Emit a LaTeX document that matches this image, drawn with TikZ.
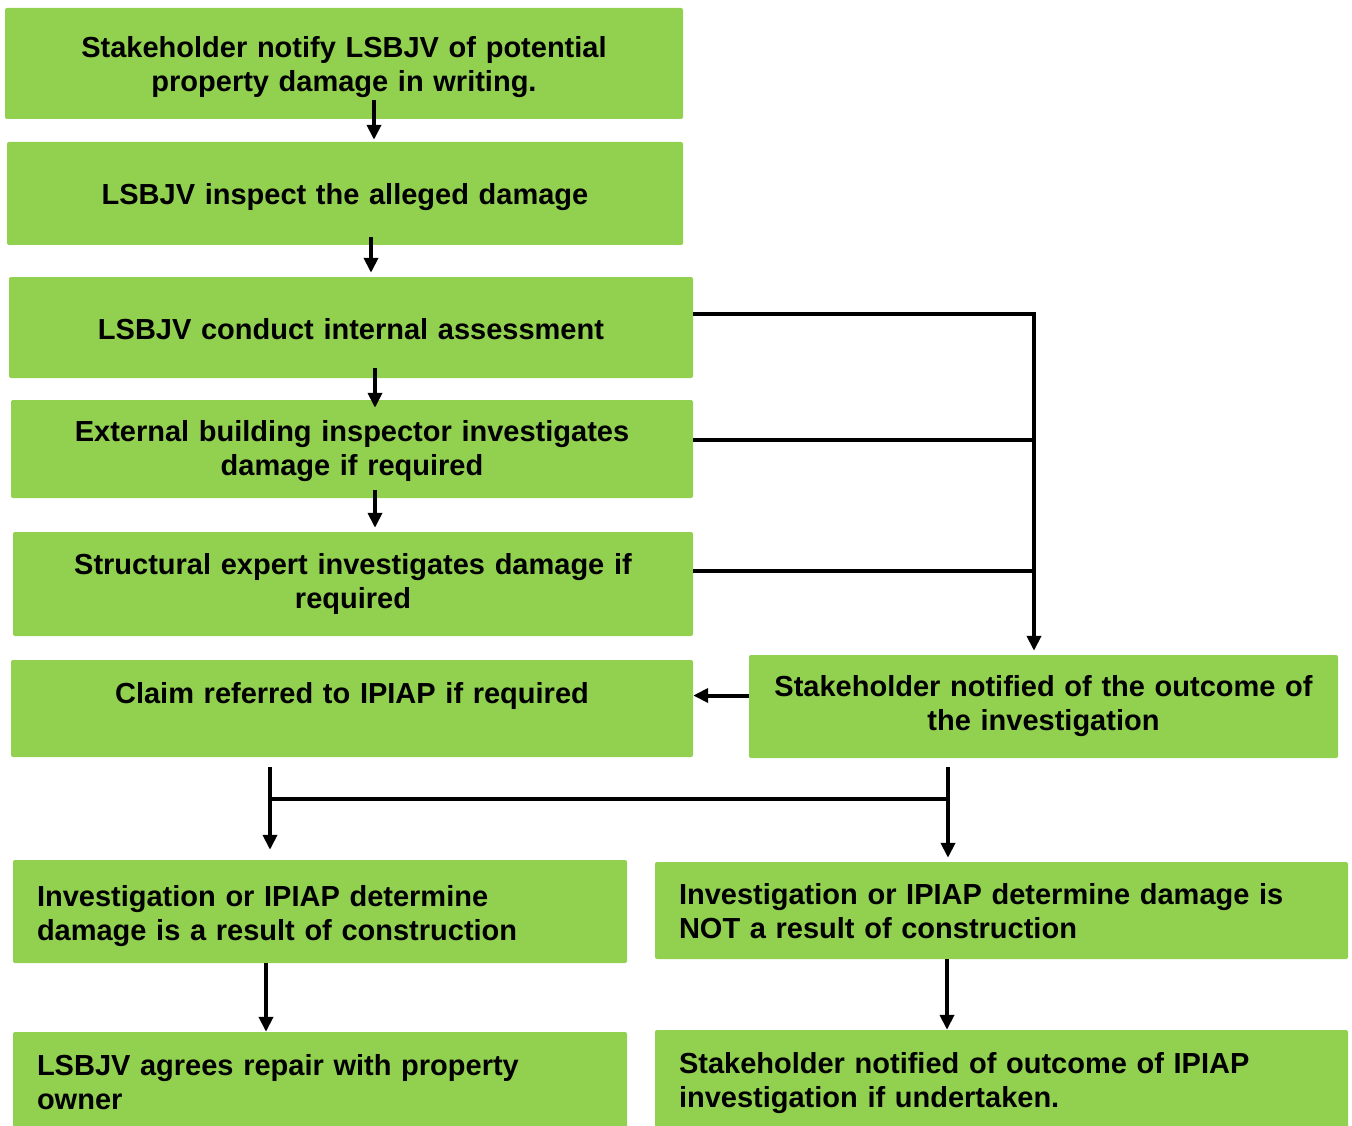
\documentclass[tikz,border=0pt]{standalone}
\usepackage{fontspec}
\setmainfont{Liberation Sans}
\usetikzlibrary{arrows.meta,calc}
\definecolor{boxgreen}{RGB}{146,208,80}
\begin{document}
\begin{tikzpicture}[x=1pt,y=-1pt,
  box/.style={fill=boxgreen,rounded corners=2pt,inner sep=0pt,align=center,
    font=\bfseries\fontsize{29}{34}\selectfont},
  lbox/.style={box,align=left,inner xsep=24pt},
  line/.style={line width=4pt},
  arr/.style={line,-{Triangle[length=15pt,width=14pt]}}]
\useasboundingbox (0,0) rectangle (1352,1126);
\node (s1) [box,text width=678pt,minimum height=111pt,text height=29pt] at (344,63.5)
  {Stakeholder notify LSBJV of potential\\property damage in writing.};
\node (s2) [box,text width=676pt,minimum height=103pt,text height=29pt] at (345,193.5)
  {LSBJV inspect the alleged damage};
\node (s3) [box,text width=684pt,minimum height=101pt,text height=25pt] at (351,327.5)
  {LSBJV conduct internal assessment};
\node (s4) [box,text width=682pt,minimum height=98pt,text height=25pt] at (352,449)
  {External building inspector investigates\\damage if required};
\node (s5) [box,text width=680pt,minimum height=104pt] at (353,584)
  {Structural expert investigates damage if\\required};
\node (claim) [box,text width=682pt,minimum height=97pt,text height=23pt] at (352,708.5)
  {Claim referred to IPIAP if required\\\mbox{}};
\node (outcome) [box,text width=589pt,minimum height=103pt] at (1043.5,706.5)
  {Stakeholder notified of the outcome of\\the investigation};
\node (yes) [lbox,text width=566pt,minimum height=103pt,text height=31pt] at (320,911.5)
  {Investigation or IPIAP determine\\damage is a result of construction};
\node (no) [lbox,text width=645pt,minimum height=97pt,text height=23pt] at (1001.5,910.5)
  {Investigation or IPIAP determine damage is\\NOT a result of construction};
\node (repair) [lbox,text width=566pt,minimum height=100pt] at (320,1082)
  {LSBJV agrees repair with property\\owner};
\node (told) [lbox,text width=645pt,minimum height=100pt,text height=27pt] at (1001.5,1080)
  {Stakeholder notified of outcome of IPIAP\\investigation if undertaken.};
% steps down the left
\draw[arr] ($(s1.south)+(30,-19)$) -- ($(s2.north)+(29,-2)$);
\draw[arr] ($(s2.south)+(26,-8)$) -- ($(s3.north)+(20,-4)$);
\draw[arr] ($(s3.south)+(24,-10)$) -- ($(s4.north)+(23,8)$);
\draw[arr] ($(s4.south)+(23,-8)$) -- ($(s5.north)+(22,-4)$);
% the three results go to the stakeholder
\coordinate (j1) at (1034,314);
\coordinate (r4) at ($(s4.east)+(0,-9)$);
\coordinate (r5) at ($(s5.east)+(0,-13)$);
\draw[line] (s3.east |- j1) -- (j1);
\draw[line] (r4) -- (r4 -| j1);
\draw[line] (r5) -- (r5 -| j1);
\draw[arr] ($(j1)+(0,-2)$) -- ($(j1 |- outcome.north)+(0,-4)$);
\draw[arr] ($(outcome.west)+(0,-11)$) -- ($(claim.east)+(0,-13)$);
% split into the two findings
\coordinate (m1) at (270,799);
\coordinate (m2) at (948,799);
\draw[line] (m1) -- (m2);
\draw[arr,shorten <=10pt,shorten >=10pt] (claim.south -| m1) -- (yes.north -| m1);
\draw[arr,shorten <=9pt,shorten >=4pt] (outcome.south -| m2) -- (no.north -| m2);
\draw[arr] ($(yes.south)+(-54,0)$) -- ($(repair.north)+(-54,0)$);
\draw[arr] ($(no.south)+(-54.5,0)$) -- ($(told.north)+(-54.5,0)$);
\end{tikzpicture}
\end{document}
